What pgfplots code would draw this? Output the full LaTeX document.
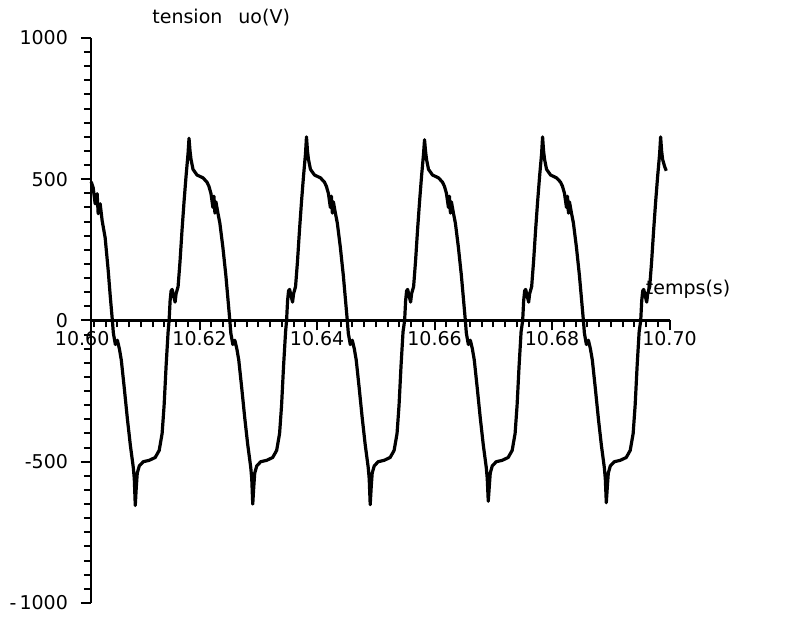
\documentclass[border=0pt]{standalone}
\usepackage{pgfplots}
\pgfplotsset{compat=1.18}
\usepackage{pgfplotstable}
\usepackage{fontspec}
\setmainfont{DejaVu Sans}
% time in ms after 10.60 s, voltage in V
\pgfplotstableread{
t u
1.53 491
1.87 470
2.21 413
2.55 449
2.72 378
3.06 413
3.40 353
3.91 293
4.43 177
4.77 88
5.14 0
5.31 -45
5.65 -85
5.99 -70
6.33 -100
6.66 -140
7.17 -240
7.68 -345
8.19 -440
8.70 -520
8.87 -560
9.04 -655
9.21 -590
9.38 -540
9.72 -515
10.39 -500
11.41 -495
12.43 -485
13.11 -460
13.61 -400
13.95 -300
14.29 -160
14.63 -40
14.80 0
14.97 70
15.14 105
15.31 110
15.65 80
15.82 65
15.99 95
16.33 120
16.66 210
17.00 320
17.34 420
17.68 510
18.02 590
18.19 645
18.36 600
18.53 570
18.87 535
19.55 515
20.56 505
21.24 490
21.58 475
21.92 450
22.26 400
22.43 440
22.60 380
22.77 420
23.11 380
23.44 345
23.95 260
24.46 160
24.80 80
25.14 0
25.31 -45
25.65 -85
25.99 -70
26.33 -100
26.66 -140
27.17 -240
27.68 -345
28.19 -440
28.70 -520
28.87 -560
29.04 -650
29.21 -590
29.38 -540
29.72 -515
30.39 -500
31.41 -495
32.43 -485
33.11 -460
33.61 -400
33.95 -300
34.29 -160
34.63 -40
34.80 0
34.97 70
35.14 105
35.31 110
35.65 80
35.82 65
35.99 95
36.33 120
36.66 210
37.00 320
37.34 420
37.68 510
38.02 590
38.19 650
38.36 600
38.53 570
38.87 535
39.55 515
40.56 505
41.24 490
41.58 475
41.92 450
42.26 400
42.43 440
42.60 380
42.77 420
43.11 380
43.44 345
43.95 260
44.46 160
44.80 80
45.14 0
45.31 -45
45.65 -85
45.99 -70
46.33 -100
46.66 -140
47.17 -240
47.68 -345
48.19 -440
48.70 -520
48.87 -560
49.04 -652
49.21 -590
49.38 -540
49.72 -515
50.39 -500
51.41 -495
52.43 -485
53.11 -460
53.61 -400
53.95 -300
54.29 -160
54.63 -40
54.90 0
55.07 70
55.24 105
55.41 110
55.75 80
55.92 65
56.09 95
56.43 120
56.76 210
57.10 320
57.44 420
57.78 510
58.12 590
58.29 640
58.46 600
58.63 570
58.97 535
59.65 515
60.66 505
61.34 490
61.68 475
62.02 450
62.36 400
62.53 440
62.70 380
62.87 420
63.21 380
63.54 345
64.05 260
64.56 160
64.90 80
65.24 0
65.41 -45
65.75 -85
66.09 -70
66.43 -100
66.76 -140
67.27 -240
67.78 -345
68.29 -440
68.80 -520
68.97 -560
69.14 -640
69.31 -590
69.48 -540
69.82 -515
70.49 -500
71.51 -495
72.53 -485
73.21 -460
73.71 -400
74.05 -300
74.39 -160
74.73 -40
75.00 0
75.17 70
75.34 105
75.51 110
75.85 80
76.02 65
76.19 95
76.53 120
76.86 210
77.20 320
77.54 420
77.88 510
78.22 590
78.39 650
78.56 600
78.73 570
79.07 535
79.75 515
80.76 505
81.44 490
81.78 475
82.12 450
82.46 400
82.63 440
82.80 380
82.97 420
83.31 380
83.64 345
84.15 260
84.66 160
85.00 80
85.34 0
85.51 -45
85.85 -85
86.19 -70
86.53 -100
86.86 -140
87.37 -240
87.88 -345
88.39 -440
88.90 -520
89.07 -560
89.24 -645
89.41 -590
89.58 -540
89.92 -515
90.59 -500
91.61 -495
92.63 -485
93.31 -460
93.81 -400
94.15 -300
94.49 -160
94.83 -40
95.10 0
95.27 70
95.44 105
95.61 110
95.95 80
96.12 65
96.29 95
96.63 120
96.96 210
97.30 320
97.64 420
97.98 510
98.32 590
98.49 650
98.66 600
98.83 570
99.17 545
99.45 530
}\wave
\begin{document}
\begin{tikzpicture}
\useasboundingbox (0,0) rectangle (399.5pt,310pt);
\begin{axis}[
  at={(45.5pt,8.5pt)}, anchor=south west,
  scale only axis, width=289.25pt, height=282.5pt,
  xmin=1.5, xmax=100, ymin=-1000, ymax=1000,
  axis x line*=middle, axis y line*=left,
  hide obscured x ticks=false, hide obscured y ticks=false,
  xtick={20,40,60,80,100},
  xticklabels={10.62,10.64,10.66,10.68,10.70},
  minor xtick={2,4,...,98},
  ytick={-1000,-500,0,500,1000},
  yticklabels={-\hspace{1.5pt}1000,-500,0,500,1000},
  minor ytick={-950,-900,...,950},
  tick align=outside,
  major tick length=5pt, minor tick length=3.5pt,
  every tick/.style={black, line width=1pt},
  axis line style={black, line width=1.1pt},
  ticklabel style={font=\fontsize{9.5}{11}\selectfont},
  xticklabel style={yshift=3pt},
  yticklabel style={xshift=-3pt},
  clip=false,
  every axis x label/.style={at={(rel axis cs:1,0.5)}, anchor=base west, xshift=-12pt, yshift=13pt, inner sep=0pt, font=\fontsize{9.5}{11}\selectfont},
  every axis y label/.style={at={(rel axis cs:0,1)}, anchor=base west, xshift=30.5pt, yshift=7pt, inner sep=0pt, font=\fontsize{9.5}{11}\selectfont},
  xlabel={temps(s)},
  ylabel={tension\hspace{8pt}uo(V)},
]
\addplot[black, line width=1.6pt, line join=round, no markers] table[x=t, y=u] {\wave};
\node[anchor=north, yshift=-2pt, font=\fontsize{9.5}{11}\selectfont] at (axis cs:0,0) {10.60};
\end{axis}
\end{tikzpicture}
\end{document}
